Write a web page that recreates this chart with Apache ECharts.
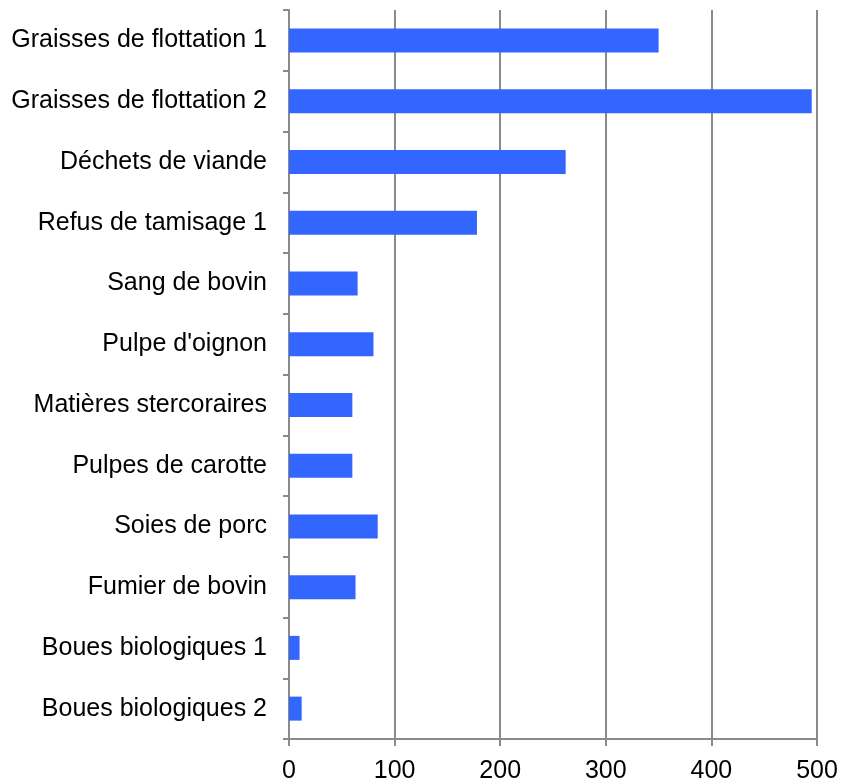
<!DOCTYPE html>
<html>
<head>
<meta charset="utf-8">
<script src="https://cdn.jsdelivr.net/npm/echarts@6/dist/echarts.min.js"></script>
<style>
  html, body { margin: 0; padding: 0; background: #fff; }
  #chart { width: 842px; height: 784px; }
</style>
</head>
<body>
<div id="chart"></div>
<script>
const categories = [
    'Graisses de flottation 1',
    'Graisses de flottation 2',
    'Déchets de viande',
    'Refus de tamisage 1',
    'Sang de bovin',
    "Pulpe d'oignon",
    'Matières stercoraires',
    'Pulpes de carotte',
    'Soies de porc',
    'Fumier de bovin',
    'Boues biologiques 1',
    'Boues biologiques 2'
];
const values = [350, 495, 262, 178, 65, 80, 60, 60, 84, 63, 10, 12];
const xTicks = [0, 100, 200, 300, 400, 500];

const axisGray = '#8a8a8a';
const chart = echarts.init(document.getElementById('chart'));

chart.setOption({
    animation: false,
    grid: { left: 289, right: 25, top: 10, bottom: 44 },
    xAxis: {
        type: 'value',
        min: xTicks[0],
        max: xTicks[xTicks.length - 1],
        interval: 100,
        axisLine: { show: true, lineStyle: { color: axisGray, width: 2 } },
        axisTick: { show: true, length: 7, lineStyle: { color: axisGray, width: 2 } },
        splitLine: { show: true, lineStyle: { color: axisGray, width: 2 } },
        axisLabel: {
            margin: 20,
            color: '#000',
            fontFamily: 'Liberation Sans, Arial, sans-serif',
            fontSize: 25
        }
    },
    yAxis: {
        type: 'category',
        data: categories,
        inverse: true,
        axisLine: { show: true, lineStyle: { color: axisGray, width: 2 } },
        axisTick: { show: true, length: 6, interval: 0, lineStyle: { color: axisGray, width: 2 } },
        splitLine: { show: false },
        axisLabel: {
            interval: 0,
            margin: 22,
            color: '#000',
            fontFamily: 'Liberation Sans, Arial, sans-serif',
            fontSize: 25
        }
    },
    series: [{
        type: 'bar',
        data: values,
        barWidth: 24,
        itemStyle: { color: '#3366ff' }
    }]
});
</script>
</body>
</html>
